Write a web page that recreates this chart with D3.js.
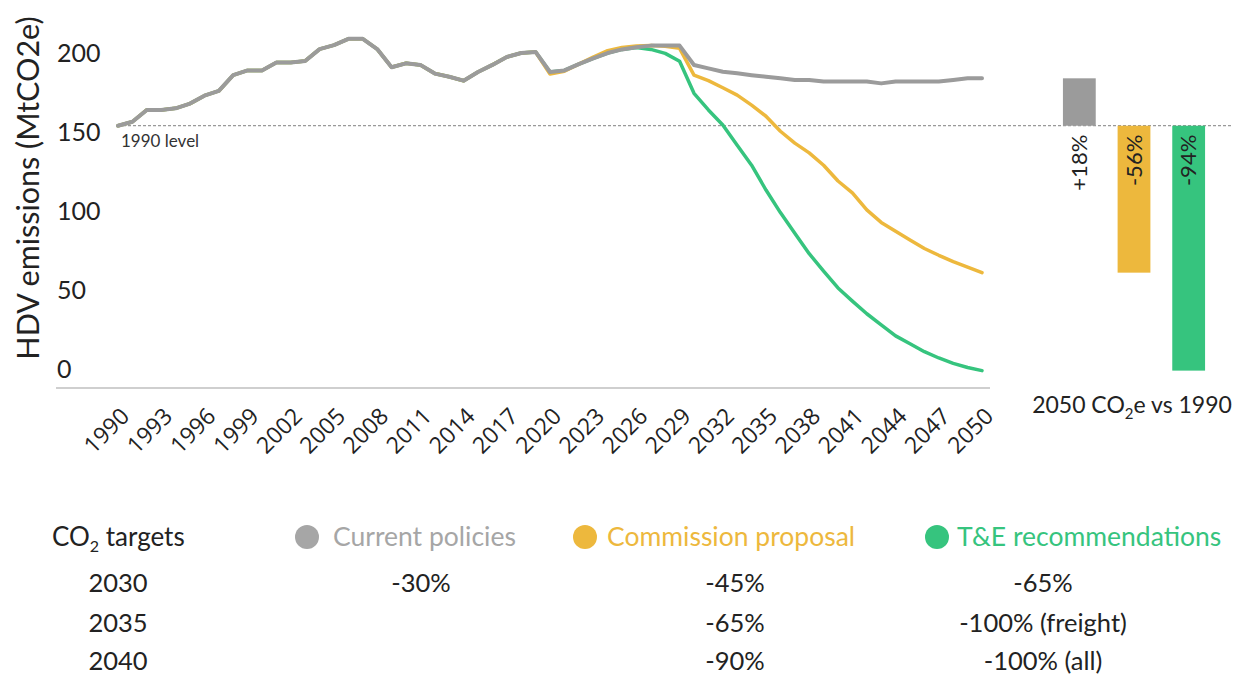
<!DOCTYPE html>
<html>
<head>
<meta charset="utf-8">
<script src="https://cdn.jsdelivr.net/npm/d3@7"></script>
<style>
  body { margin: 0; background: #fff; }
  text { font-family: Lato, "Open Sans", sans-serif; fill: #222; }
</style>
</head>
<body>
<div id="chart"></div>
<script>
"use strict";

// historic emissions 1990-2019 (MtCO2e)
const histYears = d3.range(1990, 2020);
const histValues = [166, 168.5, 176, 176, 177, 180, 185, 188, 198, 201, 201, 206, 206, 207, 214.5,
    217, 221, 221, 214.5, 203, 205.5, 204.5, 199, 197, 194.5, 200, 204.5, 209.5, 212, 212.7];

// scenarios 2020-2050
const projYears = d3.range(2020, 2051);
const currentPolicies = [200, 201, 205, 208.6, 212, 214.3, 215.6, 216.7, 216.7, 216.7, 204.4, 202.3,
    200.2, 199.2, 198, 197, 196, 195, 195, 194, 194, 194, 194, 192.8, 194, 194, 194, 194, 195, 196, 196];
const commissionProposal = [198.7, 200.5, 205, 209.5, 213.5, 215.5, 216.5, 216.7, 216.3, 215, 198,
    194.5, 190, 185.4, 179, 172, 162.5, 155, 148.8, 141, 131, 123.5, 112.7, 104.8, 99.2, 93.7, 88.3,
    84, 80, 76.5, 73];
const teRecommendations = [200, 201, 205, 208.6, 212, 214.3, 215.5, 214.3, 211.8, 206.8, 186.5, 176,
    166.5, 153.7, 141, 125.3, 111, 98, 85, 74, 63.3, 55, 47, 40, 33, 28, 23, 19, 15.6, 13, 11];

const level1990 = 166;
const yTicks = [0, 50, 100, 150, 200];
const xTicks = [1990, 1993, 1996, 1999, 2002, 2005, 2008, 2011, 2014, 2017, 2020, 2023, 2026,
    2029, 2032, 2035, 2038, 2041, 2044, 2047, 2050];

const scenarioNames = ["Current policies", "Commission proposal", "T&E recommendations"];
const scenarioColors = ["#9b9b9b", "#edb83d", "#36c47e"];
const legendColors = ["#a6a6a6", "#edb83d", "#36c47e"];
const barLabels = ["+18%", "-56%", "-94%"];

const targetYears = ["2030", "2035", "2040"];
const targetCurrent = ["-30%", "", ""];
const targetCommission = ["-45%", "-65%", "-90%"];
const targetTE = ["-65%", "-100% (freight)", "-100% (all)"];

const msm = { width: 1241, height: 675 };

const svg = d3.select("#chart").append("svg")
    .attr("width", msm.width)
    .attr("height", msm.height);

const xScale = d3.scaleLinear().domain([1990, 2050]).range([118, 982]);
const yScale = d3.scaleLinear().domain([0, 220]).range([388, 388 - 220 * 1.58]);

// y axis title
svg.append("text")
    .attr("transform", "translate(39," + 188 + ") rotate(-90)")
    .attr("text-anchor", "middle")
    .style("font-size", "30.5px")
    .text("HDV emissions (MtCO2e)");

// y tick labels sit above their value
svg.selectAll(".ytick")
    .data(yTicks)
    .enter()
    .append("text")
    .attr("class", "ytick")
    .attr("x", 57)
    .attr("y", d => yScale(d) - 10)
    .style("font-size", "25px")
    .text(d => d);

// x axis line
svg.append("line")
    .attr("x1", 56).attr("x2", 990)
    .attr("y1", yScale(0)).attr("y2", yScale(0))
    .attr("stroke", "#cfcfcf")
    .attr("stroke-width", 2);

// x tick labels rotated
svg.selectAll(".xtick")
    .data(xTicks)
    .enter()
    .append("text")
    .attr("class", "xtick")
    .attr("transform", d => "translate(" + (xScale(d) + 7) + ",412) rotate(-45)")
    .attr("text-anchor", "end")
    .attr("dy", "0.35em")
    .style("font-family", "'Open Sans', sans-serif")
    .style("font-size", "23px")
    .text(d => d);

// 1990 level dashed line
svg.append("line")
    .attr("x1", xScale(1990)).attr("x2", 1233)
    .attr("y1", yScale(level1990)).attr("y2", yScale(level1990))
    .attr("stroke", "#999")
    .attr("stroke-width", 1.2)
    .attr("stroke-dasharray", "3,2");

svg.append("text")
    .attr("x", 121)
    .attr("y", yScale(level1990) + 21)
    .style("font-size", "17px")
    .style("fill", "#333")
    .text("1990 level");

// lines
const line = d3.line()
    .x(d => xScale(d.year))
    .y(d => yScale(d.value))
    .curve(d3.curveLinear);

function series(values) {
    const hist = histYears.map((y, i) => ({ year: y, value: histValues[i] }));
    const proj = projYears.map((y, i) => ({ year: y, value: values[i] }));
    return hist.concat(proj);
}

const scenarios = [currentPolicies, commissionProposal, teRecommendations];
const drawOrder = [2, 1, 0];
drawOrder.forEach(i => {
    svg.append("path")
        .datum(series(scenarios[i]))
        .attr("d", line)
        .attr("fill", "none")
        .attr("stroke", scenarioColors[i])
        .attr("stroke-width", i == 0 ? 4 : 3.5)
        .attr("stroke-linejoin", "round")
        .attr("stroke-linecap", "round");
});

// 2050 vs 1990 bars
const barScale = d3.scaleBand()
    .domain(scenarioNames)
    .range([1052, 1216])
    .paddingInner(0.4)
    .paddingOuter(0.2);

svg.selectAll(".bar")
    .data(scenarioNames)
    .enter()
    .append("rect")
    .attr("class", "bar")
    .attr("x", d => barScale(d))
    .attr("width", barScale.bandwidth())
    .attr("y", (d, i) => Math.min(yScale(level1990), yScale(scenarios[i][scenarios[i].length - 1])))
    .attr("height", (d, i) => Math.abs(yScale(level1990) - yScale(scenarios[i][scenarios[i].length - 1])))
    .attr("fill", (d, i) => scenarioColors[i]);

svg.selectAll(".barlabel")
    .data(scenarioNames)
    .enter()
    .append("text")
    .attr("class", "barlabel")
    .attr("transform", d => "translate(" + (barScale(d) + barScale.bandwidth() / 2) + "," + (yScale(level1990) + 9) + ") rotate(-90)")
    .attr("text-anchor", "end")
    .attr("dy", "0.35em")
    .style("font-size", "22px")
    .text((d, i) => barLabels[i]);

const barTitle = svg.append("text")
    .attr("x", 1132)
    .attr("y", 413)
    .attr("text-anchor", "middle")
    .style("font-size", "23px");
barTitle.append("tspan").text("2050 CO");
barTitle.append("tspan").attr("dy", 6).style("font-size", "15px").text("2");
barTitle.append("tspan").attr("dy", -6).text("e vs 1990");

// targets table
const header = svg.append("text")
    .attr("x", 52)
    .attr("y", 546)
    .style("font-size", "26px");
header.append("tspan").text("CO");
header.append("tspan").attr("dy", 6).style("font-size", "16px").text("2");
header.append("tspan").attr("dy", -6).text(" targets");

const legendX = [307, 585, 937];
const legendGap = [26, 22, 20];
scenarioNames.forEach((name, i) => {
    svg.append("circle")
        .attr("cx", legendX[i])
        .attr("cy", 537)
        .attr("r", 12)
        .attr("fill", legendColors[i]);
    svg.append("text")
        .attr("x", legendX[i] + legendGap[i])
        .attr("y", 546)
        .style("font-size", "26.5px")
        .style("fill", legendColors[i])
        .text(name);
});

const rowY = [583, 623, 661];
const colX = [421, 735, 1043];
const cols = [targetCurrent, targetCommission, targetTE];
targetYears.forEach((yr, r) => {
    svg.append("text")
        .attr("x", 118)
        .attr("y", rowY[r])
        .attr("dy", "0.35em")
        .attr("text-anchor", "middle")
        .style("font-size", "25.5px")
        .text(yr);
    cols.forEach((col, c) => {
        svg.append("text")
            .attr("x", colX[c])
            .attr("y", rowY[r])
            .attr("dy", "0.35em")
            .attr("text-anchor", "middle")
            .style("font-size", "25.5px")
            .text(col[r]);
    });
});
</script>
</body>
</html>
